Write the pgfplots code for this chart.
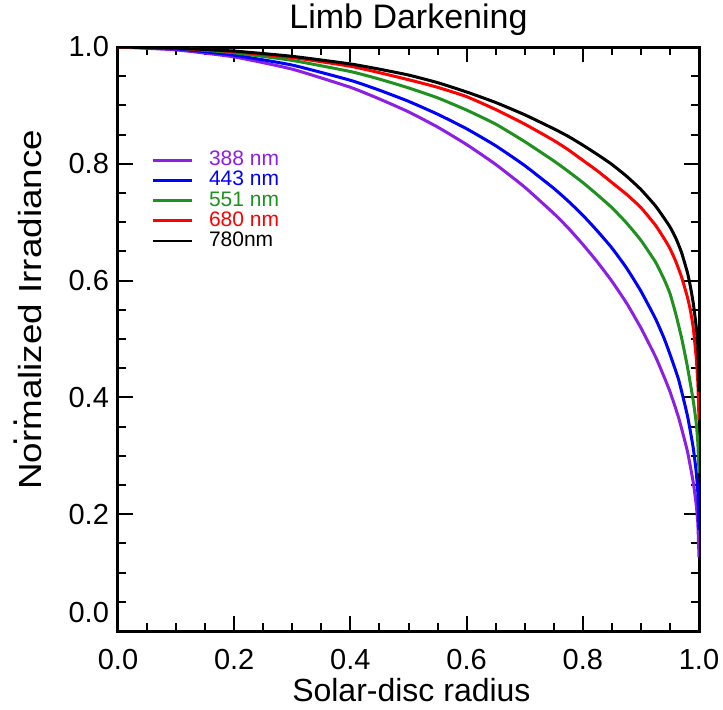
\documentclass[border=0pt]{standalone}
\usepackage{pgfplots}
\pgfplotsset{compat=1.18}
\usepackage{fontspec}
\setmainfont{Liberation Sans}
\definecolor{cviolet}{RGB}{140,30,230}
\definecolor{cblue}{RGB}{0,0,255}
\definecolor{cgreen}{RGB}{30,145,30}
\definecolor{cred}{RGB}{255,0,0}
\begin{document}
\begin{tikzpicture}
\begin{axis}[
  name=ax,
  scale only axis,
  width=290.5pt, height=292pt,
  xmin=0, xmax=1, ymin=0, ymax=1,
  axis line style={line width=1.5pt},
  every tick/.style={black, line width=1pt},
  tick align=inside,
  major tick length=7.5pt,
  minor tick length=4pt,
  xtick={0,0.2,0.4,0.6,0.8,1.0},
  ytick={0,0.2,0.4,0.6,0.8,1.0},
  minor x tick num=3,
  minor y tick num=3,
  xticklabels={0.0,0.2,0.4,0.6,0.8,1.0},
  yticklabels={\raisebox{19pt}{0.0},0.2,0.4,0.6,0.8,1.0},
  ticklabel style={font=\fontsize{14.5}{17}\selectfont},
  xticklabel style={yshift=-5.5pt},
  yticklabel style={xshift=-1pt},
  title={Limb Darkening},
  title style={font=\fontsize{17}{20}\selectfont, at={(axis description cs:0.5,1.0255)}, anchor=center},
  xlabel={Solar-disc radius},
  xlabel style={font=\fontsize{16}{19}\selectfont, at={(axis description cs:0.505,-0.101)}, anchor=center},
  ylabel={\scalebox{1.15}[1]{Normalized Irradiance}},
  ylabel style={font=\fontsize{16}{19}\selectfont, at={(axis description cs:-0.152,0.55)}, anchor=center, rotate=0},
  legend style={draw=none, fill=none, at={(axis description cs:0.046,0.83)}, anchor=north west,
    font=\fontsize{10.5}{12}\selectfont, row sep=0.6pt,
    nodes={inner sep=0pt, text height=7.5pt, text depth=2pt}},
  legend cell align=left,
  legend image code/.code={\draw[#1, line width=1.4pt] (0pt,0pt) -- (19.5pt,0pt); \path (27.5pt,0pt);},
  every axis plot/.append style={line width=1.5pt, smooth, tension=0.3},
]
\addplot[cviolet] coordinates {
(0,1.000) (0.1,0.995) (0.2,0.983) (0.3,0.962) (0.4,0.931) (0.45,0.911) (0.5,0.889) (0.55,0.863)
(0.6,0.833) (0.65,0.799) (0.7,0.760) (0.75,0.715) (0.775,0.690) (0.8,0.662) (0.825,0.632) (0.85,0.599) (0.875,0.562) (0.9,0.519)
(0.925,0.470) (0.94,0.435) (0.95,0.410) (0.965,0.365) (0.98,0.308) (0.99,0.255) (0.995,0.218) (0.998,0.184) (1.0,0.126)};
\addlegendentry{\textcolor{cviolet}{388 nm}}
\addplot[cblue] coordinates {
(0,1.000) (0.1,0.997) (0.2,0.986) (0.3,0.969) (0.4,0.943) (0.45,0.926) (0.5,0.907) (0.55,0.885)
(0.6,0.860) (0.65,0.831) (0.7,0.797) (0.75,0.758) (0.775,0.736) (0.8,0.712) (0.825,0.685) (0.85,0.656) (0.875,0.622) (0.9,0.582)
(0.925,0.535) (0.94,0.501) (0.95,0.474) (0.965,0.430) (0.98,0.369) (0.99,0.314) (0.995,0.274) (0.998,0.236) (1.0,0.173)};
\addlegendentry{\textcolor{cblue}{443 nm}}
\addplot[cgreen] coordinates {
(0,1.000) (0.1,0.998) (0.2,0.990) (0.3,0.977) (0.4,0.958) (0.45,0.945) (0.5,0.930) (0.55,0.913)
(0.6,0.892) (0.65,0.868) (0.7,0.838) (0.75,0.805) (0.775,0.787) (0.8,0.768) (0.825,0.747) (0.85,0.725) (0.875,0.699) (0.9,0.669)
(0.925,0.632) (0.94,0.602) (0.95,0.578) (0.96,0.543) (0.97,0.502) (0.98,0.453) (0.99,0.395) (0.995,0.358) (0.998,0.322) (1.0,0.270)};
\addlegendentry{\textcolor{cgreen}{551 nm}}
\addplot[cred] coordinates {
(0,1.000) (0.1,0.998) (0.2,0.992) (0.3,0.982) (0.4,0.967) (0.45,0.956) (0.5,0.944) (0.55,0.931)
(0.6,0.915) (0.65,0.893) (0.7,0.868) (0.75,0.840) (0.775,0.824) (0.8,0.806) (0.825,0.788) (0.85,0.768) (0.875,0.748) (0.9,0.725)
(0.925,0.695) (0.94,0.672) (0.95,0.655) (0.96,0.633) (0.97,0.606) (0.98,0.572) (0.985,0.550) (0.99,0.520) (0.995,0.470) (0.998,0.425) (1.0,0.361)};
\addlegendentry{\textcolor{cred}{680 nm}}
\addplot[black] coordinates {
(0,1.000) (0.1,0.998) (0.2,0.993) (0.3,0.984) (0.4,0.971) (0.45,0.962) (0.5,0.952) (0.55,0.939)
(0.6,0.923) (0.65,0.905) (0.7,0.884) (0.75,0.860) (0.775,0.847) (0.8,0.832) (0.825,0.816) (0.85,0.799) (0.875,0.779) (0.9,0.756)
(0.925,0.728) (0.94,0.707) (0.95,0.692) (0.96,0.673) (0.97,0.648) (0.98,0.614) (0.985,0.591) (0.99,0.562) (0.995,0.523) (0.998,0.488) (1.0,0.410)};
\addlegendentry{780nm}
\end{axis}
\node[rotate=90, anchor=base, inner sep=0pt, text height=2pt, text depth=0pt, font=\fontsize{17}{19}\selectfont] at ([xshift=-50pt, yshift=99.5pt]ax.south west) {.\hspace{4.6pt}.};
\pgfresetboundingbox
\path ([xshift=-59pt,yshift=-39pt]ax.south west) rectangle ([xshift=12pt,yshift=23.5pt]ax.north east);
\end{tikzpicture}
\end{document}
